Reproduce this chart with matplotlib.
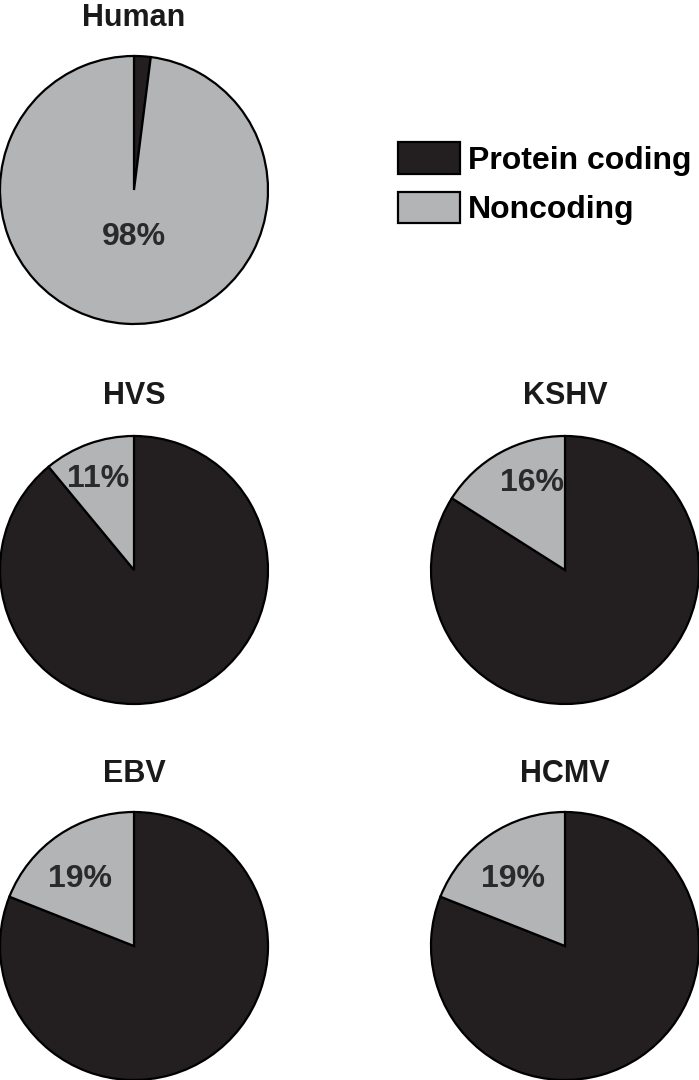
import matplotlib
matplotlib.use("Agg")
import matplotlib.pyplot as plt
from matplotlib.patches import Patch

plt.rcParams["font.family"] = ["Liberation Sans", "DejaVu Sans"]

# genome composition (% noncoding)
genomes = ["Human", "HVS", "KSHV", "EBV", "HCMV"]
noncoding = [98, 11, 16, 19, 19]
coding = [100 - v for v in noncoding]

DARK = "#231f20"
GRAY = "#b2b4b6"

W, H = 699, 1080
fig = plt.figure(figsize=(W / 100, H / 100), dpi=100)

R = 134
# pie centres in pixels (x, y from top), label offsets in radius units
centres = [(134, 190), (134, 570), (565, 570), (134, 946), (565, 946)]
title_y = [18, 396, 396, 774, 774]
label_xy = [(0.0, -0.35), (-0.27, 0.68), (-0.25, 0.65), (-0.40, 0.50), (-0.39, 0.50)]

for name, c, n, (cx, cy), ty, (lx, ly) in zip(genomes, coding, noncoding, centres,
                                              title_y, label_xy):
    pad = 2
    ax = fig.add_axes([(cx - R - pad) / W, 1 - (cy + R + pad) / H,
                       2 * (R + pad) / W, 2 * (R + pad) / H])
    ax.pie([c, n], colors=[DARK, GRAY], startangle=90, counterclock=False,
           radius=1, wedgeprops=dict(edgecolor="black", linewidth=1.6))
    lim = 1 + pad / R
    ax.set_xlim(-lim, lim); ax.set_ylim(-lim, lim)
    ax.set_aspect("equal"); ax.axis("off")
    ax.text(lx, ly, f"{n}%", ha="center", va="center", fontsize=23,
            fontweight="bold", color="#2a2a2a")
    fig.text(cx / W, 1 - ty / H, name, ha="center", va="center", fontsize=22,
             fontweight="bold", color="#1a1a1a")

handles = [Patch(facecolor=DARK, edgecolor="black", linewidth=1.6, label="Protein coding"),
           Patch(facecolor=GRAY, edgecolor="black", linewidth=1.6, label="Noncoding")]
fig.legend(handles=handles, loc="upper left", bbox_to_anchor=(398 / W, 1 - 142 / H),
           frameon=False, prop=dict(weight="bold", size=23),
           handlelength=1.95, handleheight=1.15, handletextpad=0.25,
           labelspacing=0.5, borderpad=0, borderaxespad=0)

fig.savefig("out.png", dpi=100, facecolor="white")
